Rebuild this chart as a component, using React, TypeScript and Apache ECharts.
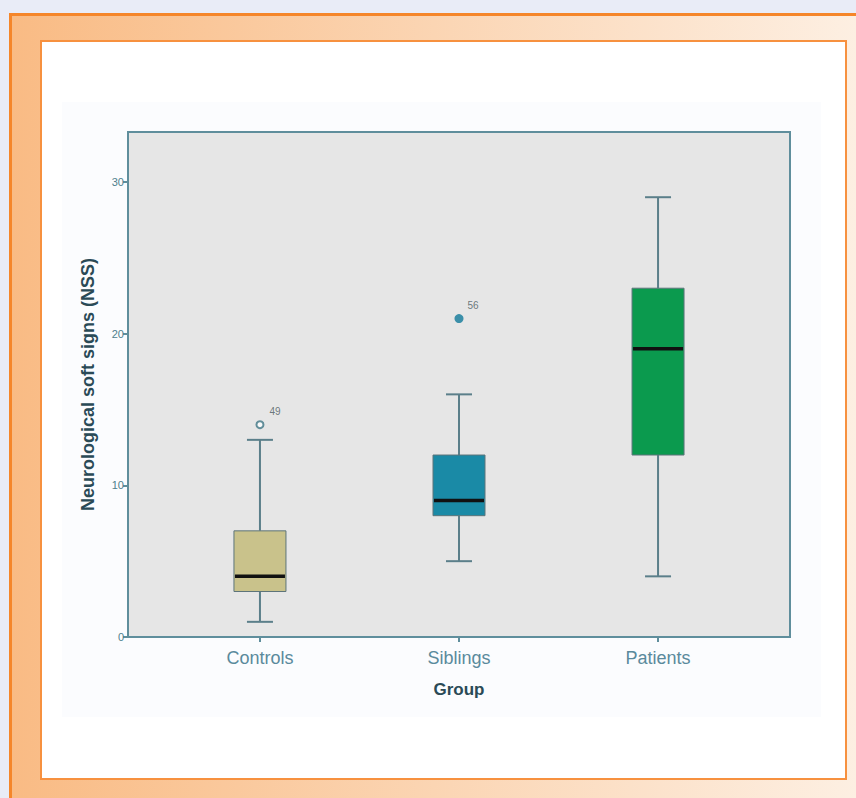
import React, { useEffect, useRef } from "react";
import * as echarts from "echarts";

const categories = ["Controls", "Siblings", "Patients"];
const positions = [1, 2, 3];
// [min, Q1, median, Q3, max]
const boxStats = [
  [1, 3, 4, 7, 13],
  [5, 8, 9, 12, 16],
  [4, 12, 19, 23, 29],
];
const boxColors = ["#c9c28b", "#1a8aa6", "#0b9a4e"];
// outliers: [position, value, case label]
const outlierControls = [[1, 14, "49"]];
const outlierSiblings = [[2, 21, "56"]];
const yTicks = [0, 10, 20, 30];

export default function App() {
  const ref = useRef<HTMLDivElement>(null);
  useEffect(() => {
    if (!ref.current) return;
    const chart = echarts.init(ref.current, null, { renderer: "svg" });
    const axisColor = "#5f8e9c";
    const font = "Liberation Sans, Arial, sans-serif";
    const boxData = boxStats.map((s, i) => [positions[i], ...s, i]);
    chart.setOption({
      animation: false,
      backgroundColor: "transparent",
      grid: {
        left: 128,
        top: 132,
        width: 662,
        height: 505,
        show: true,
        backgroundColor: "#e6e6e6",
        borderColor: axisColor,
        borderWidth: 2,
      },
      xAxis: {
        type: "value",
        min: 0.337,
        max: 3.663,
        splitLine: { show: false },
        axisLine: { show: true, lineStyle: { color: axisColor, width: 2 } },
        axisTick: {
          show: true,
          customValues: positions,
          length: 5,
          lineStyle: { color: axisColor, width: 2 },
        },
        axisLabel: {
          customValues: positions,
          formatter: (v: number) => categories[Math.round(v) - 1] ?? "",
          fontSize: 18,
          color: "#5a8a9c",
          fontFamily: font,
          margin: 12,
        },
        name: "Group",
        nameLocation: "middle",
        nameGap: 44,
        nameTextStyle: {
          fontSize: 17,
          fontWeight: "bold",
          color: "#2a4a56",
          fontFamily: font,
        },
      },
      yAxis: {
        type: "value",
        min: 0,
        max: 33.3,
        interval: 10,
        splitLine: { show: false },
        axisLine: { show: true, lineStyle: { color: axisColor, width: 2 } },
        axisTick: {
          show: true,
          customValues: yTicks,
          length: 5,
          lineStyle: { color: axisColor, width: 2 },
        },
        axisLabel: {
          customValues: yTicks,
          fontSize: 11,
          color: "#4f7f8d",
          margin: 4,
          fontFamily: font,
        },
        name: "Neurological soft signs (NSS)",
        nameLocation: "middle",
        nameGap: 31,
        nameTextStyle: {
          fontSize: 18,
          fontWeight: "bold",
          color: "#2a4a56",
          fontFamily: font,
        },
      },
      series: [
        {
          type: "custom",
          data: boxData,
          encode: { x: 0, y: [1, 2, 3, 4, 5] },
          renderItem: (params: any, api: any) => {
            const x = api.value(0);
            const idx = api.value(6);
            const pMin = api.coord([x, api.value(1)]);
            const pQ1 = api.coord([x, api.value(2)]);
            const pMed = api.coord([x, api.value(3)]);
            const pQ3 = api.coord([x, api.value(4)]);
            const pMax = api.coord([x, api.value(5)]);
            const cx = pMin[0];
            const bw = 52;
            const cw = 26;
            const wStyle = { stroke: "#5b7f8a", lineWidth: 2, fill: null };
            return {
              type: "group",
              children: [
                { type: "line", shape: { x1: cx, y1: pMin[1], x2: cx, y2: pQ1[1] }, style: wStyle },
                { type: "line", shape: { x1: cx, y1: pQ3[1], x2: cx, y2: pMax[1] }, style: wStyle },
                { type: "line", shape: { x1: cx - cw / 2, y1: pMin[1], x2: cx + cw / 2, y2: pMin[1] }, style: wStyle },
                { type: "line", shape: { x1: cx - cw / 2, y1: pMax[1], x2: cx + cw / 2, y2: pMax[1] }, style: wStyle },
                {
                  type: "rect",
                  shape: { x: cx - bw / 2, y: pQ3[1], width: bw, height: pQ1[1] - pQ3[1] },
                  style: { fill: boxColors[idx], stroke: "#5d747a", lineWidth: 1 },
                },
                {
                  type: "line",
                  shape: { x1: cx - bw / 2 + 1, y1: pMed[1], x2: cx + bw / 2 - 1, y2: pMed[1] },
                  style: { stroke: "#111", lineWidth: 3.5 },
                },
              ],
            };
          },
        },
        {
          type: "scatter",
          data: outlierControls.map((o) => ({ value: [o[0], o[1]], name: o[2] })),
          symbol: "emptyCircle",
          symbolSize: 7,
          itemStyle: { color: "#3f7585", borderWidth: 1.5 },
          label: {
            show: true,
            formatter: "{b}",
            position: "right",
            offset: [0, -13],
            fontSize: 10,
            color: "#4a5a60",
            fontFamily: font,
          },
        },
        {
          type: "scatter",
          data: outlierSiblings.map((o) => ({ value: [o[0], o[1]], name: o[2] })),
          symbol: "circle",
          symbolSize: 9,
          itemStyle: { color: "#10799a" },
          label: {
            show: true,
            formatter: "{b}",
            position: "right",
            offset: [-1, -13],
            fontSize: 10,
            color: "#4a5a60",
            fontFamily: font,
          },
        },
      ],
    });
    return () => chart.dispose();
  }, []);

  return (
    <div style={{ position: "fixed", left: 0, top: 0, width: 856, height: 798, background: "#e9ecf7", overflow: "hidden" }}>
      <div
        style={{
          position: "absolute",
          left: 9,
          top: 13,
          right: 0,
          bottom: 0,
          borderTop: "3px solid #f5862a",
          borderLeft: "3px solid #f5862a",
          background: "linear-gradient(to right, #f9bb84, #fdefe2)",
        }}
      />
      <div
        style={{
          position: "absolute",
          left: 40,
          top: 40,
          width: 803,
          height: 736,
          border: "2px solid #f7913f",
          background: "#ffffff",
        }}
      />
      <div
        style={{
          position: "absolute",
          left: 62,
          top: 102,
          width: 759,
          height: 615,
          background: "#fbfcfe",
        }}
      />
      <div ref={ref} style={{ position: "absolute", left: 0, top: 0, width: 856, height: 798 }} />
    </div>
  );
}
